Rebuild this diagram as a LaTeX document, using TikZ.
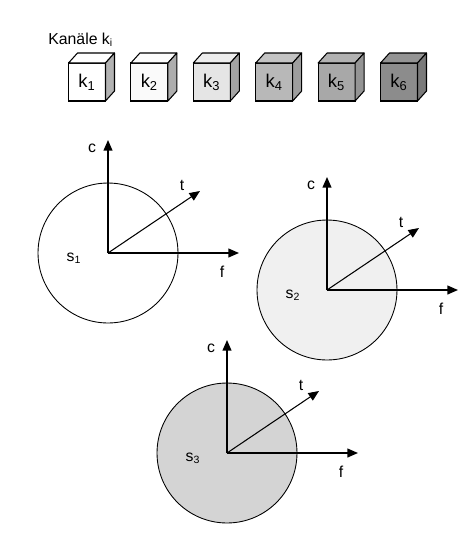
\documentclass[tikz,border=0pt]{standalone}
\usepackage{fontspec}
\setmainfont{Liberation Sans}
\usetikzlibrary{arrows.meta,positioning,calc}

\begin{document}
\begin{tikzpicture}[
	x=0.02cm, y=-0.02cm,
	every node/.style={font=\small},
	cube/.style={draw, line width=0.6pt, minimum width=0.74cm, minimum height=0.76cm, inner sep=0pt, outer sep=0pt, font=\fontsize{10.5}{12}\selectfont},
	face/.style={draw, line width=0.6pt, line join=round},
	signal/.style={draw, circle, line width=0.5pt, minimum size=2.8cm, inner sep=0pt, outer sep=0pt},
	axis/.style={-{Triangle[length=6pt,width=5pt]}, line width=0.8pt},
	taxis/.style={-{Triangle[length=6pt,width=5pt]}, line width=0.6pt},
	lbl/.style={inner sep=0pt}
	]
	\useasboundingbox (0,0) rectangle (469,538);
	
	\node[anchor=base west, inner sep=0pt] (title) at (48,44) {Kanäle k\textsubscript{i}};
	
	% channels
	\foreach \i/\front/\top/\side in {1/white/white/black!30, 2/black!2/black!1/black!32, 3/black!10/black!7/black!36, 4/black!28/black!23/black!38, 5/black!34/black!30/black!42, 6/black!45/black!42/black!52}{
		\node[cube, fill=\front] (k\i) at ({87+62.4*(\i-1)},82) {k\textsubscript{\i}};
		\draw[face, fill=\top] (k\i.north west) -- ++(9,-10) -- ++(37,0) -- (k\i.north east) -- cycle;
		\draw[face, fill=\side] (k\i.north east) -- ++(9,-10) -- ++(0,38) -- (k\i.south east) -- cycle;
	}
	
	% signals
	\foreach \n/\x/\y/\col in {1/108/253/white, 2/327/290/black!6, 3/227/453/black!17}{
		\node[signal, fill=\col] (s\n) at (\x,\y) {};
		\path (s\n.center) ++(0,-113) coordinate (c\n);
		\path (s\n.center) ++(131,0) coordinate (f\n);
		\path (s\n.center) ++(92,-62) coordinate (t\n);
		\draw[axis] (s\n.center) -- (c\n);
		\draw[axis] (s\n.center) -- (f\n);
		\draw[taxis] (s\n.center) -- (t\n);
		\node[lbl] (lc\n) at ($(c\n)+(-16,8)$) {c};
		\node[lbl] (lf\n) at ($(f\n)+(-17,19)$) {f};
		\node[lbl] (lt\n) at ($(t\n)+(-18,-6)$) {t};
		\node[lbl] (ls\n) at ($(s\n.center)+(-34,5)$) {s\textsubscript{\n}};
	}
	
\end{tikzpicture}
\end{document}
